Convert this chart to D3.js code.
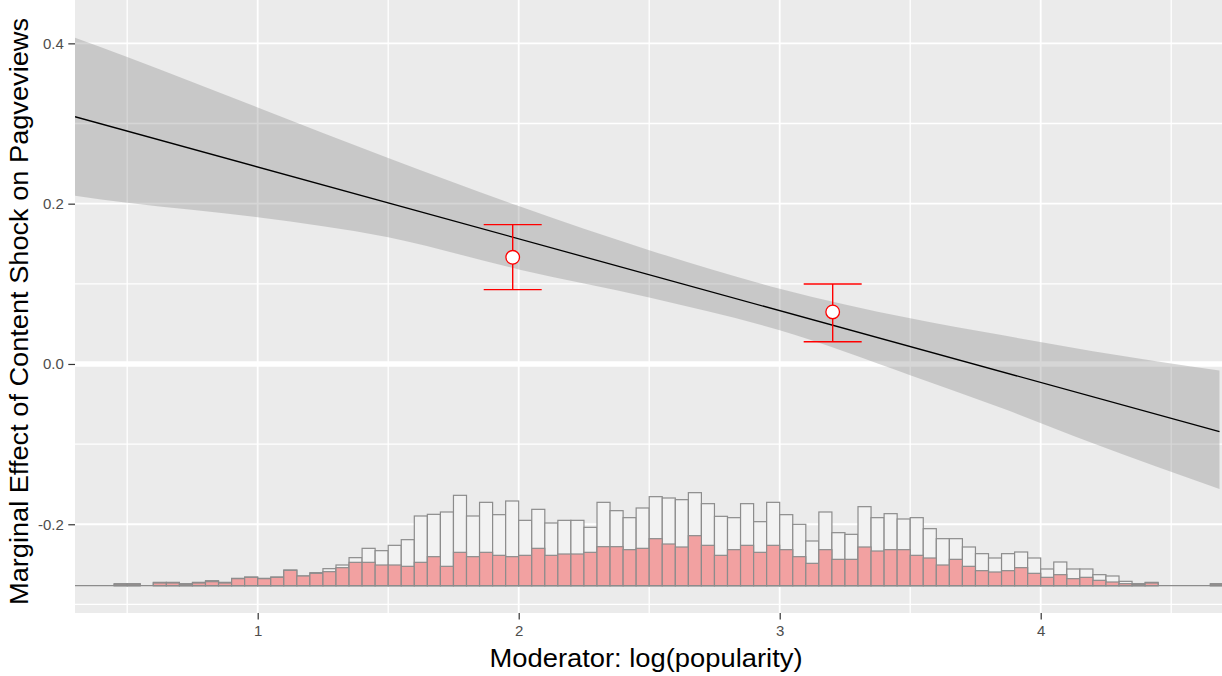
<!DOCTYPE html>
<html>
<head>
<meta charset="utf-8">
<script src="https://cdn.jsdelivr.net/npm/d3@7"></script>
<style>
  html, body { margin: 0; padding: 0; background: #ffffff; }
  svg { display: block; font-family: "Liberation Sans", Arial, sans-serif; }
</style>
</head>
<body>
<svg id="chart"></svg>
<script>
// chart size
const width = 1222;
const height = 676;

// estimated marginal effect line (end points)
const lineX = [0.3, 4.685];
const lineY = [0.3085, -0.0845];

// confidence band
const bandX     = [0.3,   0.5,   1.0,   1.5,   2.0,   2.5,   3.0,   3.5,    3.85,   4.2,    4.685];
const bandUpper = [0.407, 0.383, 0.320, 0.257, 0.197, 0.142, 0.094, 0.057,  0.036,  0.016,  -0.008];
const bandLower = [0.210, 0.201, 0.183, 0.158, 0.118, 0.083, 0.042, -0.014, -0.055, -0.099, -0.156];

// binned estimates (points + error bars)
const binX   = [1.977, 3.203];
const binEst = [0.1331, 0.0649];
const binLo  = [0.0927, 0.0278];
const binHi  = [0.1738, 0.0998];

// histogram of the moderator: bin left edges, total counts, treated counts
const histLeft = [0.45,0.50,0.55,0.60,0.65,0.70,0.75,0.80,0.85,0.90,
                  0.95,1.00,1.05,1.10,1.15,1.20,1.25,1.30,1.35,1.40,
                  1.45,1.50,1.55,1.60,1.65,1.70,1.75,1.80,1.85,1.90,
                  1.95,2.00,2.05,2.10,2.15,2.20,2.25,2.30,2.35,2.40,
                  2.45,2.50,2.55,2.60,2.65,2.70,2.75,2.80,2.85,2.90,
                  2.95,3.00,3.05,3.10,3.15,3.20,3.25,3.30,3.35,3.40,
                  3.45,3.50,3.55,3.60,3.65,3.70,3.75,3.80,3.85,3.90,
                  3.95,4.00,4.05,4.10,4.15,4.20,4.25,4.30,4.35,4.40,
                  4.45,4.50,4.55,4.60,4.65];
const histTotal = [6,6,0,10,10,6,10,15,10,22,
                   26,22,26,47,29,39,51,62,84,112,
                   105,121,138,209,214,221,271,209,250,213,
                   254,196,229,188,196,196,175,250,225,204,
                   233,267,263,258,279,246,208,204,246,192,
                   250,213,184,134,221,159,154,237,204,216,
                   200,204,171,141,141,116,96,83,96,101,
                   83,50,71,50,50,33,29,13,6,10,
                   0,0,0,0,6];
const histTreated = [4,4,0,8,8,4,8,12,8,21,
                     25,21,25,46,29,37,42,54,70,70,
                     62,62,58,70,87,58,100,87,100,91,
                     87,91,112,91,95,95,100,117,117,108,
                     112,141,125,116,150,121,91,108,121,100,
                     121,108,87,67,108,79,79,116,104,108,
                     108,91,83,62,79,58,45,41,45,54,
                     37,25,33,21,25,16,11,6,4,8,
                     0,0,0,0,4];
const histBinWidth = 0.05;

// ticks
const xTicks = [1, 2, 3, 4];
const yTicks = [-0.2, 0.0, 0.2, 0.4];
const xMinor = [0.5, 1.5, 2.5, 3.5, 4.5];
const yMinor = [-0.3, -0.1, 0.1, 0.3];

const xTitle = "Moderator: log(popularity)";
const yTitle = "Marginal Effect of Content Shock on Pagveviews";

// panel
const panel = {left: 75, right: 1222, top: 0, bottom: 613};

const x = d3.scaleLinear().domain([0.3, 4.6946]).range([panel.left, panel.right]);
const y = d3.scaleLinear().domain([-0.3107, 0.4541]).range([panel.bottom, panel.top]);

// histogram counts sit on a base line near the bottom of the panel
const histBase = -0.2766;
const countY = d3.scaleLinear().domain([0, 300]).range([histBase, histBase + 300 / 2404.5]);

const svg = d3.select("#chart").attr("width", width).attr("height", height);

svg.append("defs").append("clipPath").attr("id", "clip")
  .append("rect")
  .attr("x", panel.left).attr("y", panel.top)
  .attr("width", panel.right - panel.left).attr("height", panel.bottom - panel.top);

svg.append("rect")
  .attr("x", panel.left).attr("y", panel.top)
  .attr("width", panel.right - panel.left).attr("height", panel.bottom - panel.top)
  .attr("fill", "#EBEBEB");

const grid = svg.append("g").attr("stroke", "#ffffff");

grid.selectAll(".ymin").data(yMinor).enter().append("line")
  .attr("x1", panel.left).attr("x2", panel.right)
  .attr("y1", d => y(d)).attr("y2", d => y(d))
  .attr("stroke-width", 1.3);
grid.selectAll(".xmin").data(xMinor).enter().append("line")
  .attr("y1", panel.top).attr("y2", panel.bottom)
  .attr("x1", d => x(d)).attr("x2", d => x(d))
  .attr("stroke-width", 1.3);
grid.selectAll(".ymaj").data(yTicks).enter().append("line")
  .attr("x1", panel.left).attr("x2", panel.right)
  .attr("y1", d => y(d)).attr("y2", d => y(d))
  .attr("stroke-width", 1.8);
grid.selectAll(".xmaj").data(xTicks).enter().append("line")
  .attr("y1", panel.top).attr("y2", panel.bottom)
  .attr("x1", d => x(d)).attr("x2", d => x(d))
  .attr("stroke-width", 1.8);

const plot = svg.append("g").attr("clip-path", "url(#clip)");

// zero reference line
plot.append("line")
  .attr("x1", panel.left).attr("x2", panel.right)
  .attr("y1", y(0)).attr("y2", y(0))
  .attr("stroke", "#ffffff").attr("stroke-width", 5.5);

// confidence band
const band = bandX.map((v, i) => ({x: v, lo: bandLower[i], hi: bandUpper[i]}));
plot.append("path")
  .datum(band)
  .attr("d", d3.area().x(d => x(d.x)).y0(d => y(d.lo)).y1(d => y(d.hi)).curve(d3.curveMonotoneX))
  .attr("fill", "#7F7F7F")
  .attr("fill-opacity", 0.32);

// effect line
plot.append("path")
  .datum(lineX.map((v, i) => [v, lineY[i]]))
  .attr("d", d3.line().x(d => x(d[0])).y(d => y(d[1])))
  .attr("fill", "none")
  .attr("stroke", "#000000")
  .attr("stroke-width", 1.3);

// histogram
const hist = histLeft.map((v, i) => ({x0: v, total: histTotal[i], treated: histTreated[i]}));
const hg = plot.append("g").attr("stroke", "#8C8C8C").attr("stroke-width", 1.2);

hg.selectAll(".tot").data(hist.filter(d => d.total > 0)).enter().append("rect")
  .attr("x", d => x(d.x0))
  .attr("width", d => x(d.x0 + histBinWidth) - x(d.x0))
  .attr("y", d => y(countY(d.total)))
  .attr("height", d => y(histBase) - y(countY(d.total)))
  .attr("fill", "#F2F2F2");

hg.selectAll(".trt").data(hist.filter(d => d.treated > 0)).enter().append("rect")
  .attr("x", d => x(d.x0))
  .attr("width", d => x(d.x0 + histBinWidth) - x(d.x0))
  .attr("y", d => y(countY(d.treated)))
  .attr("height", d => y(histBase) - y(countY(d.treated)))
  .attr("fill", "#F2A1A1");

plot.append("line")
  .attr("x1", panel.left).attr("x2", panel.right)
  .attr("y1", y(histBase)).attr("y2", y(histBase))
  .attr("stroke", "#8C8C8C").attr("stroke-width", 1.3);

// binned estimates
const bins = binX.map((v, i) => ({x: v, est: binEst[i], lo: binLo[i], hi: binHi[i]}));
const capHalf = 29;
const eb = plot.append("g").attr("stroke", "#FF0000").attr("stroke-width", 1.4).attr("fill", "none");

eb.selectAll(".v").data(bins).enter().append("line")
  .attr("x1", d => x(d.x)).attr("x2", d => x(d.x))
  .attr("y1", d => y(d.lo)).attr("y2", d => y(d.hi));
eb.selectAll(".ct").data(bins).enter().append("line")
  .attr("x1", d => x(d.x) - capHalf).attr("x2", d => x(d.x) + capHalf)
  .attr("y1", d => y(d.hi)).attr("y2", d => y(d.hi));
eb.selectAll(".cb").data(bins).enter().append("line")
  .attr("x1", d => x(d.x) - capHalf).attr("x2", d => x(d.x) + capHalf)
  .attr("y1", d => y(d.lo)).attr("y2", d => y(d.lo));

plot.selectAll(".pt").data(bins).enter().append("circle")
  .attr("cx", d => x(d.x)).attr("cy", d => y(d.est))
  .attr("r", 6.8)
  .attr("fill", "#ffffff")
  .attr("stroke", "#FF0000")
  .attr("stroke-width", 1.3);

// axes
const fmt = d => d3.format(".1f")(d).replace("\u2212", "-");

const yAxis = svg.append("g")
  .attr("transform", `translate(${panel.left},0)`)
  .call(d3.axisLeft(y).tickValues(yTicks).tickFormat(fmt).tickSize(6.7).tickPadding(4.5));

const xAxis = svg.append("g")
  .attr("transform", `translate(0,${panel.bottom})`)
  .call(d3.axisBottom(x).tickValues(xTicks).tickFormat(d3.format("d")).tickSize(6.5).tickPadding(5.5));

[yAxis, xAxis].forEach(a => {
  a.attr("font-size", null).attr("font-family", null);
  a.select(".domain").remove();
  a.selectAll(".tick line").attr("stroke", "#333333").attr("stroke-width", 1.2);
  a.selectAll(".tick text")
    .attr("fill", "#4D4D4D")
    .style("font-size", "15px")
    .style("font-family", "'Liberation Sans', Arial, sans-serif");
});

// titles
svg.append("text")
  .attr("x", 646).attr("y", 667)
  .attr("text-anchor", "middle")
  .attr("textLength", 313).attr("lengthAdjust", "spacingAndGlyphs")
  .style("font-size", "25.5px")
  .attr("fill", "#000000")
  .text(xTitle);

svg.append("text")
  .attr("transform", "translate(28,311.5) rotate(-90)")
  .attr("text-anchor", "middle")
  .attr("textLength", 587).attr("lengthAdjust", "spacingAndGlyphs")
  .style("font-size", "25.5px")
  .attr("fill", "#000000")
  .text(yTitle);
</script>
</body>
</html>
